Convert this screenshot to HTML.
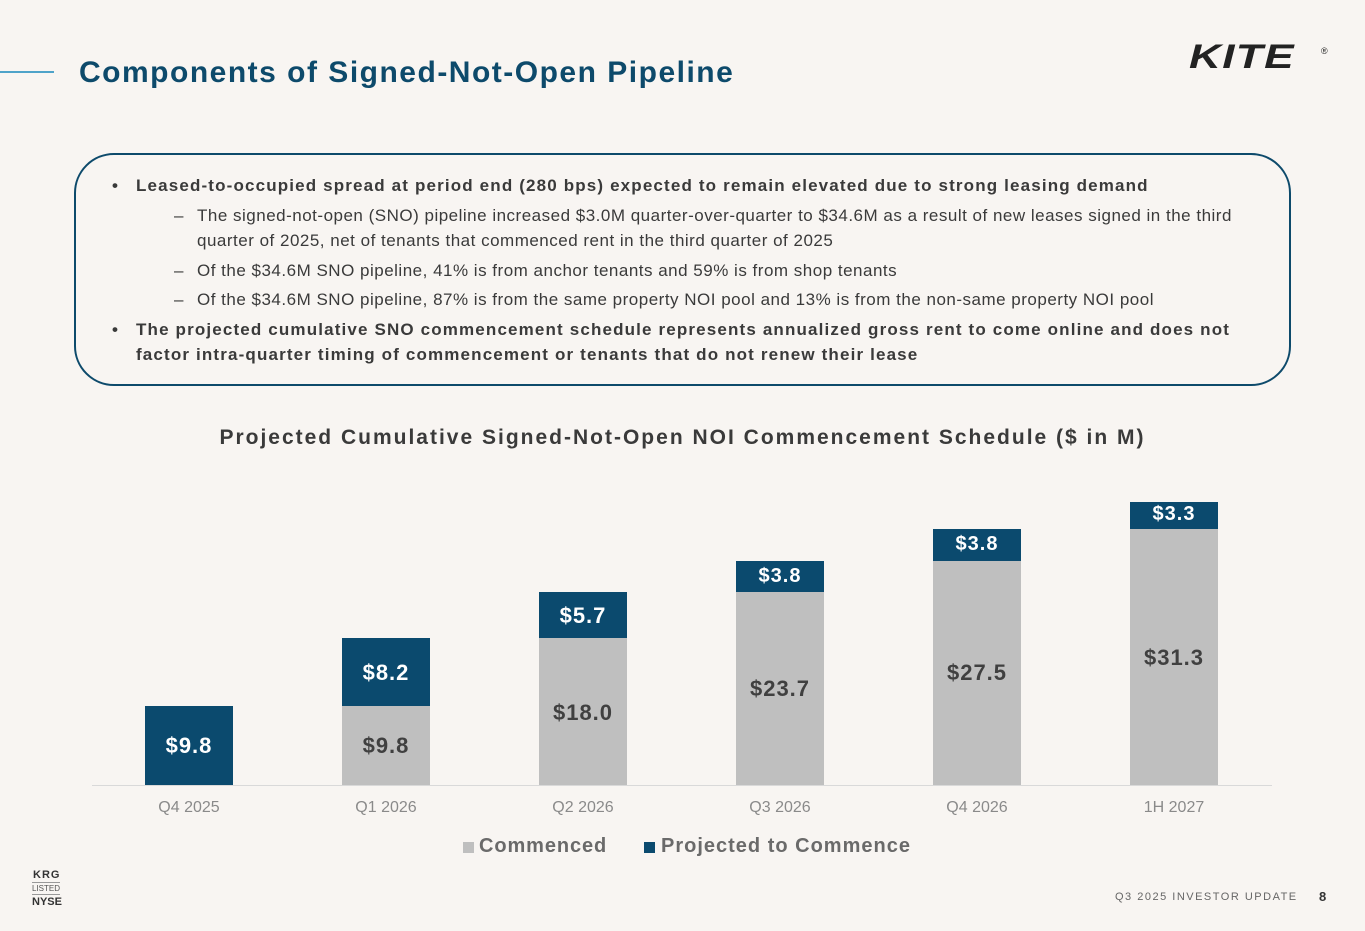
<!DOCTYPE html>
<html><head><meta charset="utf-8"><style>
body{margin:0;width:1365px;height:931px;background:#f8f5f2;font-family:"Liberation Sans",sans-serif;position:relative;overflow:hidden;color:#3a3a3a}
.a{position:absolute;white-space:nowrap}
.t{font-size:17px;letter-spacing:0.5px}
.b{font-weight:bold;letter-spacing:1.15px}
.bar{position:absolute;width:88px}
.g{background:#bfbfbf}.d{background:#0b4a6e}
.v{position:absolute;width:88px;text-align:center;font-weight:bold;font-size:22px;letter-spacing:1px}
.x{position:absolute;width:120px;text-align:center;font-size:16px;color:#8a8a8a;top:799px}
</style></head><body>
<div class="a" style="left:0;top:71px;width:54px;height:2px;background:#4ea3c9"></div>
<div class="a" style="left:79px;top:56px;font-size:30px;font-weight:bold;color:#0d4a6b;letter-spacing:1.5px">Components of Signed-Not-Open Pipeline</div>
<div class="a" style="left:1189px;top:38px;font-size:34px;font-weight:900;font-style:italic;color:#222;letter-spacing:1px;transform:scaleX(1.3);transform-origin:left">KITE</div>
<div class="a" style="left:1321px;top:46px;font-size:9px;color:#222">®</div>
<div class="a" style="left:74px;top:153px;width:1213px;height:229px;border:2px solid #0d4a6b;border-radius:40px"></div>
<div class="a t b" style="left:112px;top:176px">•</div>
<div class="a t b" style="left:136px;top:176px">Leased-to-occupied spread at period end (280 bps) expected to remain elevated due to strong leasing demand</div>
<div class="a t" style="left:174px;top:206px">–</div>
<div class="a t" style="left:197px;top:206px">The signed-not-open (SNO) pipeline increased $3.0M quarter-over-quarter to $34.6M as a result of new leases signed in the third</div>
<div class="a t" style="left:197px;top:231px">quarter of 2025, net of tenants that commenced rent in the third quarter of 2025</div>
<div class="a t" style="left:174px;top:261px">–</div>
<div class="a t" style="left:197px;top:261px">Of the $34.6M SNO pipeline, 41% is from anchor tenants and 59% is from shop tenants</div>
<div class="a t" style="left:174px;top:290px">–</div>
<div class="a t" style="left:197px;top:290px">Of the $34.6M SNO pipeline, 87% is from the same property NOI pool and 13% is from the non-same property NOI pool</div>
<div class="a t b" style="left:112px;top:320px">•</div>
<div class="a t b" style="left:136px;top:320px">The projected cumulative SNO commencement schedule represents annualized gross rent to come online and does not</div>
<div class="a t b" style="left:136px;top:345px">factor intra-quarter timing of commencement or tenants that do not renew their lease</div>
<div class="a" style="left:0;width:1365px;text-align:center;top:426px;font-size:21px;font-weight:bold;color:#3a3a3a;letter-spacing:2px">Projected Cumulative Signed-Not-Open NOI Commencement Schedule ($ in M)</div>
<div class="a" style="left:92px;top:785px;width:1180px;height:1px;background:#d9d9d9"></div>

<div class="bar d" style="left:145px;top:706px;height:79px"></div>
<div class="v" style="left:145px;top:733px;color:#fff">$9.8</div>

<div class="bar g" style="left:342px;top:706px;height:79px"></div>
<div class="bar d" style="left:342px;top:638px;height:68px"></div>
<div class="v" style="left:342px;top:733px;color:#404040">$9.8</div>
<div class="v" style="left:342px;top:660px;color:#fff">$8.2</div>

<div class="bar g" style="left:539px;top:638px;height:147px"></div>
<div class="bar d" style="left:539px;top:592px;height:46px"></div>
<div class="v" style="left:539px;top:700px;color:#404040">$18.0</div>
<div class="v" style="left:539px;top:603px;color:#fff">$5.7</div>

<div class="bar g" style="left:736px;top:592px;height:193px"></div>
<div class="bar d" style="left:736px;top:561px;height:31px"></div>
<div class="v" style="left:736px;top:676px;color:#404040">$23.7</div>
<div class="v" style="left:736px;top:565px;color:#fff;font-size:20px">$3.8</div>

<div class="bar g" style="left:933px;top:561px;height:224px"></div>
<div class="bar d" style="left:933px;top:529px;height:32px"></div>
<div class="v" style="left:933px;top:660px;color:#404040">$27.5</div>
<div class="v" style="left:933px;top:533px;color:#fff;font-size:20px">$3.8</div>

<div class="bar g" style="left:1130px;top:529px;height:256px"></div>
<div class="bar d" style="left:1130px;top:502px;height:27px"></div>
<div class="v" style="left:1130px;top:645px;color:#404040">$31.3</div>
<div class="v" style="left:1130px;top:503px;color:#fff;font-size:20px">$3.3</div>

<div class="x" style="left:129px">Q4 2025</div>
<div class="x" style="left:326px">Q1 2026</div>
<div class="x" style="left:523px">Q2 2026</div>
<div class="x" style="left:720px">Q3 2026</div>
<div class="x" style="left:917px">Q4 2026</div>
<div class="x" style="left:1114px">1H 2027</div>

<div class="a" style="left:463px;top:842px;width:11px;height:11px;background:#bfbfbf"></div>
<div class="a" style="left:479px;top:835px;font-size:20px;font-weight:bold;color:#6a6a6a;letter-spacing:0.9px">Commenced</div>
<div class="a" style="left:644px;top:842px;width:11px;height:11px;background:#0b4a6e"></div>
<div class="a" style="left:661px;top:835px;font-size:20px;font-weight:bold;color:#6a6a6a;letter-spacing:1px">Projected to Commence</div>

<div class="a" style="left:33px;top:869px;font-size:11px;color:#333;font-weight:bold;letter-spacing:1px">KRG</div>
<div class="a" style="left:32px;top:882px;width:28px;height:1px;background:#999"></div>
<div class="a" style="left:32px;top:884px;font-size:8px;color:#555">LISTED</div>
<div class="a" style="left:32px;top:894px;width:28px;height:1px;background:#999"></div>
<div class="a" style="left:32px;top:896px;font-size:11px;color:#333;font-weight:bold">NYSE</div>
<div class="a" style="left:1115px;top:891px;font-size:11px;letter-spacing:1.5px;color:#666">Q3 2025 INVESTOR UPDATE</div>
<div class="a" style="left:1319px;top:889px;font-size:13px;color:#333;font-weight:bold">8</div>
</body></html>
